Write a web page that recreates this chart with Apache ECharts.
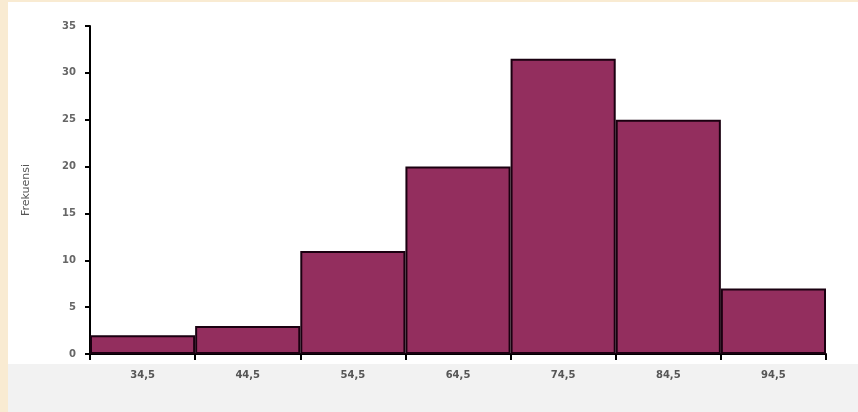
<!DOCTYPE html>
<html><head><meta charset="utf-8">
<script src="https://cdn.jsdelivr.net/npm/echarts@6/dist/echarts.min.js"></script>
<style>html,body{margin:0;padding:0;background:#fff}#c{width:858px;height:412px}</style>
</head><body><div id="c"></div>
<script>
const categories = ['34,5','44,5','54,5','64,5','74,5','84,5','94,5'];
const frequencies = [2, 3, 11, 20, 31.5, 25, 7];
const yTicks = {min: 0, max: 35, step: 5};
const yName = 'Frekuensi';

const chart = echarts.init(document.getElementById('c'));
chart.setOption({
  backgroundColor: '#ffffff',
  animation: false,
  graphic: [
    {type: 'rect', left: 0, top: 0, shape: {width: 8, height: 412}, style: {fill: '#f9ebd2'}, z: -10},
    {type: 'rect', left: 0, top: 0, shape: {width: 858, height: 2}, style: {fill: '#f9ebd2'}, z: -10},
    {type: 'rect', left: 8, top: 364, shape: {width: 850, height: 48}, style: {fill: '#f2f2f2'}, z: -10}
  ],
  grid: {left: 90, right: 32, top: 26, bottom: 58, containLabel: false},
  xAxis: {
    type: 'category',
    data: categories,
    boundaryGap: true,
    axisLine: {lineStyle: {color: '#000', width: 2}},
    axisTick: {show: true, alignWithLabel: false, length: 6, lineStyle: {color: '#000', width: 2}},
    axisLabel: {color: '#555', fontSize: 10, margin: 16, fontFamily: 'DejaVu Sans', fontWeight: 'bold'}
  },
  yAxis: {
    type: 'value',
    min: yTicks.min, max: yTicks.max, interval: yTicks.step,
    name: yName,
    nameLocation: 'middle',
    nameGap: 58,
    nameRotate: 90,
    nameTextStyle: {color: '#555', fontSize: 11, fontFamily: 'DejaVu Sans'},
    axisLine: {show: true, lineStyle: {color: '#000', width: 2}},
    axisTick: {show: true, length: 5, lineStyle: {color: '#000', width: 2}},
    splitLine: {show: false},
    axisLabel: {color: '#666', fontSize: 10, margin: 14, fontFamily: 'DejaVu Sans', fontWeight: 'bold'}
  },
  series: [{
    type: 'bar',
    data: frequencies,
    barWidth: '100%',
    barCategoryGap: '0%',
    itemStyle: {color: '#932e5e', borderColor: '#1a0010', borderWidth: 2}
  }]
});
</script></body></html>
